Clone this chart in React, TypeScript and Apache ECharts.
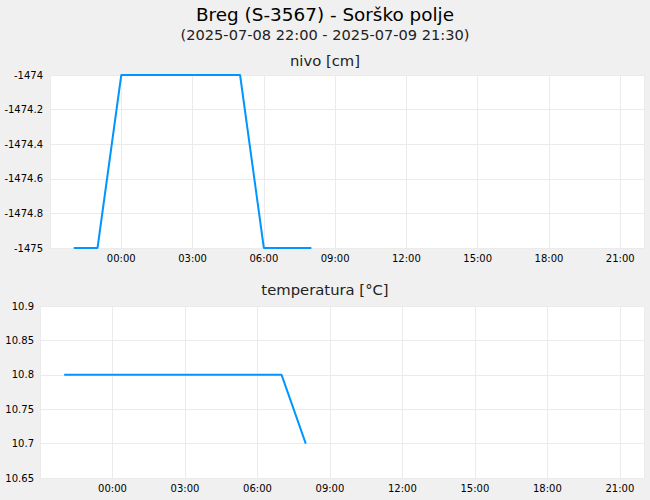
import React, { useEffect, useRef } from "react";
import * as echarts from "echarts";

// hourly readings, 2025-07-08 22:00 .. 2025-07-09 08:00
const times = ["22:00", "23:00", "00:00", "01:00", "02:00", "03:00", "04:00", "05:00", "06:00", "07:00", "08:00"];
const nivo = [-1475, -1475, -1474, -1474, -1474, -1474, -1474, -1474, -1475, -1475, -1475];
const temperatura = [10.8, 10.8, 10.8, 10.8, 10.8, 10.8, 10.8, 10.8, 10.8, 10.8, 10.7];

// x axis in hours from 2025-07-08 00:00
const xMin = 21;
const xMax = 46;

const toHours = (t: string) => {
  const h = parseInt(t.slice(0, 2), 10) + parseInt(t.slice(3, 5), 10) / 60;
  return h >= xMin ? h : h + 24;
};

const FONT = "DejaVu Sans";

const xLabel = (v: number) => {
  if (v <= xMin || v % 3 !== 0) return "";
  const h = v % 24;
  return (h < 10 ? "0" + h : "" + h) + ":00";
};

const App = () => {
  const chartRef = useRef(null);

  useEffect(() => {
    document.body.style.margin = "0";
    const chartDom = chartRef.current;
    if (!chartDom) return;
    const myChart = echarts.init(chartDom, null, { renderer: "svg" });

    const xAxisBase = {
      type: "value",
      min: xMin,
      max: xMax,
      interval: 3,
      axisLine: { show: false },
      axisTick: { show: false },
      axisLabel: { formatter: xLabel, color: "#000", fontSize: 10, fontFamily: FONT, margin: 5 },
      splitLine: { lineStyle: { color: "#ebebeb" } },
    };
    const yAxisBase = {
      type: "value",
      axisLine: { show: false },
      axisTick: { show: false },
      splitLine: { lineStyle: { color: "#ebebeb" } },
    };
    const lineBase = {
      type: "line",
      showSymbol: false,
      lineStyle: { color: "#0096ff", width: 2 },
      itemStyle: { color: "#0096ff" },
    };
    const titleText = (size: number, color: string) => ({
      fontFamily: FONT,
      fontSize: size,
      fontWeight: "normal",
      color,
    });

    const option = {
      animation: false,
      backgroundColor: "#f0f0f0",
      title: [
        { text: "Breg (S-3567) - Sorško polje", left: "center", top: 5, padding: 0, textStyle: titleText(18.4, "#000") },
        { text: "(2025-07-08 22:00 - 2025-07-09 21:30)", left: "center", top: 27, padding: 0, textStyle: titleText(14.6, "#222") },
        { text: "nivo [cm]", left: "center", top: 53, padding: 0, textStyle: titleText(14.8, "#222") },
        { text: "temperatura [°C]", left: "center", top: 282, padding: 0, textStyle: titleText(14.8, "#222") },
      ],
      grid: [
        { left: 50, top: 75, width: 594, height: 173, show: true, backgroundColor: "#fff", borderWidth: 0 },
        { left: 40, top: 306, width: 604, height: 172, show: true, backgroundColor: "#fff", borderWidth: 0 },
      ],
      xAxis: [
        { ...xAxisBase, gridIndex: 0 },
        { ...xAxisBase, gridIndex: 1 },
      ],
      yAxis: [
        {
          ...yAxisBase,
          gridIndex: 0,
          min: -1475,
          max: -1474,
          interval: 0.2,
          axisLabel: {
            formatter: (v: number) => String(parseFloat(v.toFixed(1))),
            color: "#000",
            fontSize: 10,
            fontFamily: FONT,
            margin: 7,
          },
        },
        {
          ...yAxisBase,
          gridIndex: 1,
          min: 10.65,
          max: 10.9,
          interval: 0.05,
          axisLabel: {
            formatter: (v: number) => String(parseFloat(v.toFixed(2))),
            color: "#000",
            fontSize: 10,
            fontFamily: FONT,
            margin: 6,
          },
        },
      ],
      series: [
        { ...lineBase, xAxisIndex: 0, yAxisIndex: 0, data: times.map((t, i) => [toHours(t), nivo[i]]) },
        { ...lineBase, xAxisIndex: 1, yAxisIndex: 1, data: times.map((t, i) => [toHours(t), temperatura[i]]) },
      ],
    };

    myChart.setOption(option);

    const onResize = () => myChart.resize();
    window.addEventListener("resize", onResize, false);

    return () => {
      window.removeEventListener("resize", onResize, false);
      myChart.dispose();
    };
  }, []);

  return <div ref={chartRef} style={{ width: 650, height: 500 }}></div>;
};

export default App;
